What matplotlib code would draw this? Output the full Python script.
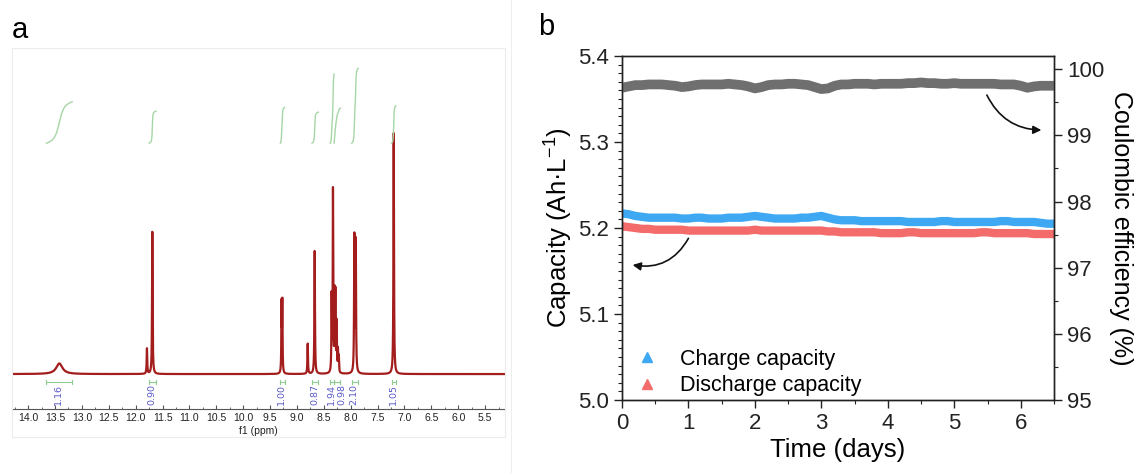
import numpy as np
import matplotlib
matplotlib.use('Agg')
import matplotlib.pyplot as plt
from matplotlib.ticker import MultipleLocator
from matplotlib.lines import Line2D
from matplotlib.patches import Rectangle

plt.rcParams['font.family'] = ['Liberation Sans', 'DejaVu Sans']
plt.rcParams['mathtext.fontset'] = 'custom'
plt.rcParams['mathtext.rm'] = 'Liberation Sans'
plt.rcParams['mathtext.it'] = 'Liberation Sans:italic'

# ---- panel a : 1H NMR, peak list
peak_ppm    = [13.42, 11.79, 11.69, 9.286, 9.272, 8.80, 8.67, 8.355, 8.33, 8.300, 8.285, 8.262, 8.238, 8.222, 7.932, 7.906, 7.20]
peak_height = [4.4,   10.5,  59,    28,    28.5,  12.5, 51,   31,    75,   31,    31,    20,    9,     6.5,   56,    54,    100]
peak_hwhm   = [0.07,  0.006, 0.006, 0.005, 0.005, 0.006, 0.006, 0.005, 0.005, 0.005, 0.005, 0.005, 0.005, 0.005, 0.006, 0.006, 0.006]

# integrals: (start ppm, end ppm, value) and where the label sits
int_from  = [13.66, 11.75, 9.31, 8.72, 8.38, 8.31, 7.98, 7.24]
int_to    = [13.18, 11.62, 9.23, 8.60, 8.31, 8.19, 7.86, 7.16]
int_value = [1.16, 0.90, 1.00, 0.87, 1.94, 0.98, 2.10, 1.05]
int_label_ppm = [13.43, 11.70, 9.28, 8.66, 8.36, 8.16, 7.94, 7.21]

# ---- panel b : cycling data, one reading every 0.1 day
days = np.round(np.arange(0, 6.51, 0.1), 1)
ce = [99.72, 99.74, 99.76, 99.76, 99.77, 99.77, 99.77, 99.76, 99.75, 99.73,
      99.74, 99.76, 99.77, 99.77, 99.77, 99.77, 99.78, 99.77, 99.76, 99.74,
      99.71, 99.73, 99.76, 99.77, 99.77, 99.78, 99.78, 99.77, 99.76, 99.73,
      99.70, 99.71, 99.75, 99.77, 99.77, 99.78, 99.78, 99.78, 99.77, 99.78,
      99.78, 99.78, 99.78, 99.79, 99.79, 99.80, 99.79, 99.79, 99.78, 99.78,
      99.79, 99.78, 99.78, 99.78, 99.78, 99.78, 99.78, 99.77, 99.77, 99.77,
      99.75, 99.72, 99.74, 99.75, 99.75, 99.75]
charge = [5.217, 5.216, 5.214, 5.213, 5.212, 5.212, 5.212, 5.212, 5.212, 5.211,
          5.211, 5.212, 5.212, 5.211, 5.211, 5.211, 5.212, 5.212, 5.212, 5.213,
          5.214, 5.213, 5.212, 5.211, 5.211, 5.211, 5.211, 5.212, 5.212, 5.213,
          5.214, 5.212, 5.210, 5.209, 5.209, 5.209, 5.208, 5.208, 5.208, 5.208,
          5.208, 5.208, 5.208, 5.207, 5.207, 5.207, 5.207, 5.207, 5.208, 5.208,
          5.207, 5.207, 5.207, 5.207, 5.207, 5.207, 5.207, 5.208, 5.208, 5.207,
          5.207, 5.207, 5.207, 5.206, 5.205, 5.205]
discharge = [5.202, 5.201, 5.200, 5.199, 5.199, 5.198, 5.198, 5.198, 5.198, 5.198,
             5.197, 5.197, 5.197, 5.197, 5.197, 5.197, 5.197, 5.197, 5.197, 5.197,
             5.198, 5.197, 5.197, 5.197, 5.197, 5.197, 5.197, 5.197, 5.197, 5.197,
             5.197, 5.196, 5.196, 5.195, 5.195, 5.195, 5.195, 5.195, 5.195, 5.194,
             5.194, 5.194, 5.194, 5.195, 5.195, 5.194, 5.194, 5.194, 5.194, 5.194,
             5.194, 5.194, 5.194, 5.194, 5.195, 5.195, 5.194, 5.194, 5.194, 5.194,
             5.194, 5.194, 5.193, 5.193, 5.193, 5.193]

W, H = 1135, 473
fig = plt.figure(figsize=(W / 100, H / 100), dpi=100)

# =================== a ===================
axa = fig.add_axes([12 / W, 1 - 409 / H, 493 / W, 361 / H])
ppm = np.linspace(14.3, 5.13, 40000)
spec = np.zeros_like(ppm)
for p, h, w in zip(peak_ppm, peak_height, peak_hwhm):
    spec += h / (1 + ((ppm - p) / w) ** 2)
axa.plot(ppm, spec, color='#a41d1d', lw=1.6)

int_base, int_scale = 95.8, 14.8
for a, b, v in zip(int_from, int_to, int_value):
    m = (ppm <= a) & (ppm >= b)
    cum = np.cumsum(spec[m])
    cum = cum / cum[-1]
    axa.plot(ppm[m], int_base + v * int_scale * cum, color='#a6d6a6', lw=1)
    axa.plot([a, b], [-3.3, -3.3], color='#8fcc8f', lw=0.8)
    axa.plot([a, a], [-4.3, -2.3], color='#8fcc8f', lw=0.8)
    axa.plot([b, b], [-4.3, -2.3], color='#8fcc8f', lw=0.8)
for x, v in zip(int_label_ppm, int_value):
    axa.text(x, -4.3, '%.2f' % v, rotation=90, ha='center', va='top',
             fontsize=6.8, color='#5a5ac8', family='DejaVu Sans')

axa.set_xlim(14.3, 5.13)
axa.set_ylim(-14.5, 135.3)
for s in ['left', 'top', 'right']:
    axa.spines[s].set_visible(False)
axa.spines['bottom'].set_color('#555555')
axa.set_yticks([])
axa.xaxis.set_major_locator(MultipleLocator(0.5))
axa.xaxis.set_minor_locator(MultipleLocator(0.25))
axa.tick_params(axis='x', which='major', direction='in', length=3, width=0.8,
                labelsize=7.5, pad=3, colors='#555555', labelcolor='#222222')
axa.tick_params(axis='x', which='minor', direction='in', length=1.5, width=0.6, colors='#555555')
axa.xaxis.set_major_formatter(matplotlib.ticker.FormatStrFormatter('%.1f'))
axa.set_xlabel('f1 (ppm)', fontsize=7.5, color='#222222', labelpad=2)

fig.patches.append(Rectangle((12 / W, 1 - 437 / H), 493 / W, 389 / H, transform=fig.transFigure,
                             fill=False, edgecolor='#ececec', lw=0.8))
fig.add_artist(Line2D([511 / W, 511 / W], [0, 1], color='#eeeeee', lw=0.8))

# =================== b ===================
ax = fig.add_axes([622 / W, 1 - 400 / H, 432 / W, 344 / H])
ax2 = ax.twinx()
ax.plot(days, charge, color='#3ea8f2', lw=6, solid_capstyle='butt')
ax.plot(days, discharge, color='#f36b6b', lw=6, solid_capstyle='butt')
ax2.plot(days, ce, color='#6f6f6f', lw=7, solid_capstyle='butt')

ax.set_xlim(0, 6.5)
ax.set_ylim(5.0, 5.4)
ax2.set_ylim(95, 100.2)
ax.xaxis.set_major_locator(MultipleLocator(1))
ax.xaxis.set_minor_locator(MultipleLocator(0.5))
ax.yaxis.set_major_locator(MultipleLocator(0.1))
ax.yaxis.set_minor_locator(MultipleLocator(0.01))
ax2.yaxis.set_major_locator(MultipleLocator(1))
ax2.yaxis.set_minor_locator(MultipleLocator(0.5))
ax.yaxis.set_major_formatter(matplotlib.ticker.FormatStrFormatter('%.1f'))

for a_ in (ax, ax2):
    a_.tick_params(which='major', direction='out', length=6, width=1, labelsize=16, colors='#222222')
    a_.tick_params(which='minor', direction='out', length=3, width=0.8, colors='#222222')
    for s in a_.spines.values():
        s.set_color('#222222')
        s.set_linewidth(1)
ax.tick_params(top=False, which='both')

ax.set_xlabel('Time (days)', fontsize=18.5, labelpad=3)
ax.set_ylabel('Capacity (Ah·L$^{-1}$)', fontsize=18.5, labelpad=2)
ax2.set_ylabel('Coulombic efficiency (%)', fontsize=18, rotation=270, va='bottom', labelpad=3)

ax2.annotate('', xy=(6.31, 99.08), xytext=(5.49, 99.61),
             arrowprops=dict(arrowstyle='-|>', color='#111111', lw=1.2,
                             connectionstyle='arc3,rad=0.3', mutation_scale=12,
                             shrinkA=0, shrinkB=0))
ax.annotate('', xy=(0.16, 5.157), xytext=(1.0, 5.188),
            arrowprops=dict(arrowstyle='-|>', color='#111111', lw=1.2,
                            connectionstyle='arc3,rad=-0.35', mutation_scale=12,
                            shrinkA=0, shrinkB=0))

handles = [Line2D([], [], ls='none', marker='^', ms=7, color='#3ea8f2', label='Charge capacity'),
           Line2D([], [], ls='none', marker='^', ms=7, color='#f36b6b', label='Discharge capacity')]
ax2.legend(handles=handles, loc='lower left', bbox_to_anchor=(-0.023, -0.027), frameon=False,
           fontsize=15.5, handletextpad=0.57, labelspacing=0.25, borderaxespad=0.2)

fig.text(12 / W, 1 - 38 / H, 'a', fontsize=21)
fig.text(538 / W, 1 - 35 / H, 'b', fontsize=21)

fig.savefig('out.png', dpi=100)
